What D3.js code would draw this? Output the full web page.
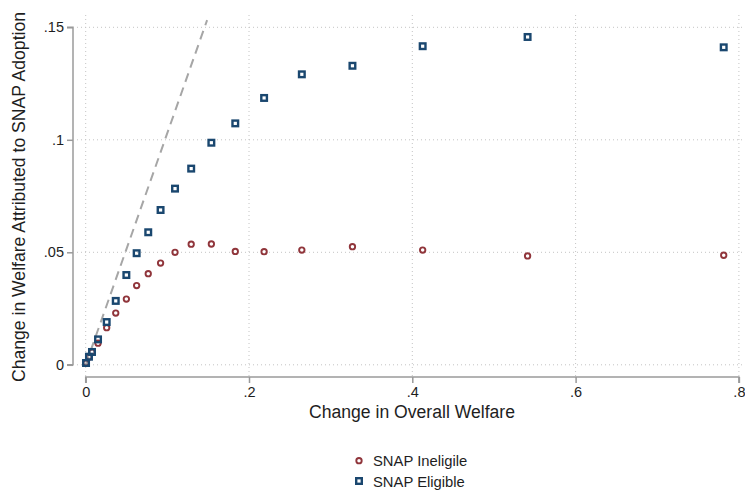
<!DOCTYPE html>
<html>
<head>
<meta charset="utf-8">
<script src="https://cdn.jsdelivr.net/npm/d3@7"></script>
<style>
  html, body { margin: 0; padding: 0; background: #fff; }
  svg { display: block; font-family: "Liberation Sans", Arial, sans-serif; }
</style>
</head>
<body>
<svg id="chart" width="745" height="494"></svg>
<script>
// ---- data ----
const xValues = [0.0004, 0.0040, 0.0077, 0.0151, 0.0257, 0.0368, 0.0498, 0.0624, 0.0766, 0.0917,
                 0.1094, 0.1292, 0.1539, 0.1832, 0.2185, 0.2647, 0.3267, 0.4127, 0.5412, 0.7814];
const ineligible = [0.0008, 0.0035, 0.0057, 0.0096, 0.0165, 0.0230, 0.0292, 0.0352, 0.0405, 0.0452,
                    0.0500, 0.0536, 0.0537, 0.0504, 0.0503, 0.0510, 0.0525, 0.0510, 0.0484, 0.0487];
const eligible   = [0.0008, 0.0036, 0.0057, 0.0113, 0.0190, 0.0284, 0.0399, 0.0496, 0.0589, 0.0688,
                    0.0783, 0.0872, 0.0987, 0.1073, 0.1186, 0.1291, 0.1329, 0.1416, 0.1457, 0.1411];
const refLineX = [0, 0.1487];
const refLineY = [0, 0.1532];
const xTicks = [0, 0.2, 0.4, 0.6, 0.8];
const xTickLabels = ["0", ".2", ".4", ".6", ".8"];
const yTicks = [0, 0.05, 0.1, 0.15];
const yTickLabels = ["0", ".05", ".1", ".15"];
const seriesNames = ["SNAP Ineligile", "SNAP Eligible"];
const xTitle = "Change in Overall Welfare";
const yTitle = "Change in Welfare Attributed to SNAP Adoption";

// ---- layout ----
const svg = d3.select("#chart");
const x = d3.scaleLinear().domain([0, 0.8]).range([85.7, 738.9]);
const y = d3.scaleLinear().domain([0, 0.15]).range([364.8, 27.3]);
const plotLeft = 77, plotRight = 744, plotTop = 15, plotBottom = 376;
const red = "#90353b", navy = "#1a476f", axisCol = "#9a9a9a", gridCol = "#c4c4c4", textCol = "#1e1e1e";
const tickFont = 14.5, titleFont = 17.6, legendFont = 14.8;

// grid
svg.append("g").selectAll("line").data(xTicks).join("line")
  .attr("x1", d => x(d)).attr("x2", d => x(d))
  .attr("y1", plotTop).attr("y2", plotBottom)
  .attr("stroke", gridCol).attr("stroke-width", 1).attr("stroke-dasharray", "1,3");
svg.append("g").selectAll("line").data(yTicks).join("line")
  .attr("x1", plotLeft).attr("x2", plotRight)
  .attr("y1", d => y(d)).attr("y2", d => y(d))
  .attr("stroke", gridCol).attr("stroke-width", 1).attr("stroke-dasharray", "1,3");

// y axis
const yAxis = d3.axisLeft(y).tickValues(yTicks).tickFormat((d, i) => yTickLabels[i])
  .tickSize(6).tickPadding(3);
const gy = svg.append("g").attr("transform", "translate(73,0)").call(yAxis);
gy.select(".domain").attr("stroke", axisCol).attr("stroke-width", 1.5)
  .attr("d", `M-6,${y(0.15)}H0V${y(0)}H-6`);
gy.selectAll(".tick line").attr("stroke", axisCol).attr("stroke-width", 1.5);
gy.selectAll(".tick text").attr("fill", textCol).attr("font-size", tickFont)
  .attr("font-family", "Liberation Sans, Arial, sans-serif");

// x axis
const xAxis = d3.axisBottom(x).tickValues(xTicks).tickFormat((d, i) => xTickLabels[i])
  .tickSize(6).tickPadding(4);
const gx = svg.append("g").attr("transform", "translate(0,377)").call(xAxis);
gx.select(".domain").attr("stroke", axisCol).attr("stroke-width", 1.5)
  .attr("d", `M${x(0)},6V0H${x(0.8)}V6`);
gx.selectAll(".tick line").attr("stroke", axisCol).attr("stroke-width", 1.5);
gx.selectAll(".tick text").attr("fill", textCol).attr("font-size", tickFont)
  .attr("font-family", "Liberation Sans, Arial, sans-serif");

// reference dashed line
svg.append("line")
  .attr("x1", x(refLineX[0])).attr("y1", y(refLineY[0]))
  .attr("x2", x(refLineX[1])).attr("y2", y(refLineY[1]))
  .attr("stroke", "#a6a6a6").attr("stroke-width", 2).attr("stroke-dasharray", "9,6");

// ineligible circles
svg.append("g").selectAll("circle").data(xValues).join("circle")
  .attr("cx", (d) => x(d)).attr("cy", (d, i) => y(ineligible[i]))
  .attr("r", 2.7).attr("fill", "none").attr("stroke", red).attr("stroke-width", 1.9);

// eligible squares
const s = 5.6;
svg.append("g").selectAll("rect").data(xValues).join("rect")
  .attr("x", d => x(d) - s / 2).attr("y", (d, i) => y(eligible[i]) - s / 2)
  .attr("width", s).attr("height", s)
  .attr("fill", "none").attr("stroke", navy).attr("stroke-width", 2.4);

// titles
svg.append("text").attr("x", 412).attr("y", 418).attr("text-anchor", "middle")
  .attr("font-size", titleFont).attr("fill", textCol).text(xTitle);
svg.append("text").attr("transform", "translate(25,197) rotate(-90)").attr("text-anchor", "middle")
  .attr("font-size", titleFont).attr("fill", textCol).text(yTitle);

// legend
const lg = svg.append("g");
lg.append("circle").attr("cx", 359).attr("cy", 460.7).attr("r", 2.7)
  .attr("fill", "none").attr("stroke", red).attr("stroke-width", 1.9);
lg.append("rect").attr("x", 359 - s / 2).attr("y", 481 - s / 2).attr("width", s).attr("height", s)
  .attr("fill", "none").attr("stroke", navy).attr("stroke-width", 2.4);
lg.append("text").attr("x", 373).attr("y", 466).attr("font-size", legendFont).attr("fill", textCol).text(seriesNames[0]);
lg.append("text").attr("x", 373).attr("y", 486.5).attr("font-size", legendFont).attr("fill", textCol).text(seriesNames[1]);
</script>
</body>
</html>
